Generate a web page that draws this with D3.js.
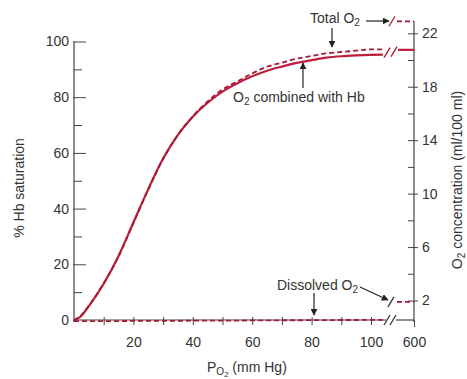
<!DOCTYPE html>
<html>
<head>
<meta charset="utf-8">
<script src="https://cdn.jsdelivr.net/npm/d3@7"></script>
<style>
  html, body { margin: 0; padding: 0; background: #fff; }
  svg { display: block; font-family: "Liberation Sans", Arial, Helvetica, sans-serif; }
</style>
</head>
<body>
<svg id="chart" width="467" height="379"></svg>
<script>
// P_O2 (mm Hg) at which the curves are sampled
const po2 = [0, 2, 5, 10, 15, 20, 25, 30, 35, 40, 45, 50, 55, 60, 65, 70, 75, 80, 85, 90, 95, 100, 104];
// % of hemoglobin saturated with O2 (left axis)
const hbSaturation = [0, 1, 5, 13, 23, 35, 47, 58, 66.5, 73, 78, 82, 85, 87.5, 89.5, 91, 92.3, 93.3, 94.2, 94.7, 95, 95.2, 95.3];
// Total O2 content of blood, ml O2 / 100 ml (right axis)
const totalO2 = [0.5, 0.8, 1.6, 3.3, 5.3, 7.8, 10.3, 12.6, 14.4, 15.8, 16.9, 17.8, 18.4, 19.0, 19.5, 19.8, 20.1, 20.3, 20.5, 20.6, 20.7, 20.8, 20.8];
// O2 physically dissolved in plasma, ml O2 / 100 ml (right axis)
const dissolvedO2 = [0.45, 0.45, 0.45, 0.46, 0.46, 0.47, 0.47, 0.48, 0.48, 0.49, 0.49, 0.5, 0.5, 0.51, 0.51, 0.52, 0.52, 0.53, 0.53, 0.54, 0.54, 0.55, 0.55];

// Values past the axis break, at P_O2 = 600 mm Hg
const highPo2 = 600;
const hbSaturationHigh = 97;
const totalO2High = 22.9;
const dissolvedO2High = 1.9;

// Tick values and labels
const xTicks = [10, 20, 30, 40, 50, 60, 70, 80, 90, 100];
const xTickLabels = [20, 40, 60, 80, 100];
const leftTicks = [0, 10, 20, 30, 40, 50, 60, 70, 80, 90, 100];
const leftTickLabels = [0, 20, 40, 60, 80, 100];
const rightTicks = [2, 4, 6, 8, 10, 12, 14, 16, 18, 20, 22];
const rightTickLabels = [2, 6, 10, 14, 18, 22];

const svg = d3.select("#chart");
const ink = "#333";
const axisInk = "#444";
const redSolid = "#be1d3c";
const redDash = "#a61a36";
const fontSize = 14;

// Scales
const x = d3.scaleLinear().domain([0, 100]).range([74, 371]);
const xHigh = d3.scaleOrdinal().domain([highPo2]).range([414]);
const yL = d3.scaleLinear().domain([0, 100]).range([320, 41.5]);
const yR = d3.scaleLinear().domain([2, 22]).range([300.5, 33.3]);

const leftX = x(0);
const rightX = xHigh(highPo2);
const baseY = yL(0);
const breakStart = 386, breakEnd = 396;   // gap on the x axis
const highStart = 397;                     // start of the 600 mm Hg segment

// Arrow head
svg.append("defs").append("marker")
  .attr("id", "arrow")
  .attr("viewBox", "0 0 10 10")
  .attr("refX", 9).attr("refY", 5)
  .attr("markerWidth", 7).attr("markerHeight", 7)
  .attr("markerUnits", "userSpaceOnUse")
  .attr("orient", "auto")
  .append("path").attr("d", "M0,0 L10,5 L0,10 Z").attr("fill", "#222");

// ---- Left axis (% Hb saturation)
const gL = svg.append("g")
  .attr("transform", `translate(${leftX},0)`)
  .call(d3.axisRight(yL).tickValues(leftTicks).tickSizeOuter(0)
    .tickFormat(d => leftTickLabels.includes(d) ? d : ""));
gL.select(".domain").remove();
gL.selectAll(".tick line")
  .attr("x1", d => leftTickLabels.includes(d) ? -1 : 0)
  .attr("x2", d => d === 0 ? 0 : (leftTickLabels.includes(d) ? 12 : 8))
  .attr("stroke", axisInk);
gL.selectAll(".tick text")
  .attr("x", -5).attr("text-anchor", "end")
  .attr("font-size", fontSize).attr("font-family", null).attr("fill", ink);
svg.append("line")
  .attr("x1", leftX).attr("x2", leftX)
  .attr("y1", yL(100)).attr("y2", baseY + 2)
  .attr("stroke", axisInk).attr("stroke-width", 1.2);

// ---- Bottom axis (P_O2)
const gX = svg.append("g")
  .attr("transform", `translate(0,${baseY})`)
  .call(d3.axisBottom(x).tickValues(xTicks).tickSizeOuter(0).tickSizeInner(5).tickPadding(12)
    .tickFormat(d => xTickLabels.includes(d) ? d : ""));
gX.select(".domain").remove();
gX.selectAll(".tick line").attr("y1", -3).attr("y2", 5).attr("stroke", axisInk);
gX.selectAll(".tick text").attr("font-size", fontSize).attr("font-family", null).attr("fill", ink);

const gXHigh = svg.append("g")
  .attr("transform", `translate(0,${baseY})`)
  .call(d3.axisBottom(xHigh).tickSizeOuter(0).tickSizeInner(7).tickPadding(10));
gXHigh.select(".domain").remove();
gXHigh.selectAll(".tick line").attr("stroke", axisInk);
gXHigh.selectAll(".tick text").attr("font-size", fontSize).attr("font-family", null).attr("fill", ink);

svg.append("line").attr("x1", leftX).attr("x2", breakStart).attr("y1", baseY).attr("y2", baseY)
  .attr("stroke", axisInk).attr("stroke-width", 1.2);
svg.append("line").attr("x1", breakEnd).attr("x2", rightX).attr("y1", baseY).attr("y2", baseY)
  .attr("stroke", axisInk).attr("stroke-width", 1.2);

// ---- Right axis (O2 concentration)
const gR = svg.append("g")
  .attr("transform", `translate(${rightX},0)`)
  .call(d3.axisLeft(yR).tickValues(rightTicks).tickSizeOuter(0)
    .tickFormat(d => rightTickLabels.includes(d) ? d : ""));
gR.select(".domain").remove();
gR.selectAll(".tick line")
  .attr("x1", d => rightTickLabels.includes(d) ? 4 : 0)
  .attr("x2", -6).attr("stroke", axisInk);
gR.selectAll(".tick text")
  .attr("x", 8).attr("text-anchor", "start")
  .attr("font-size", fontSize).attr("font-family", null).attr("fill", ink);
svg.append("line")
  .attr("x1", rightX).attr("x2", rightX)
  .attr("y1", yR(totalO2High)).attr("y2", baseY + 2)
  .attr("stroke", axisInk).attr("stroke-width", 1.2);

// ---- Curves
const hbLine = d3.line().x((d, i) => x(po2[i])).y(d => yL(d)).curve(d3.curveMonotoneX);
const mlLine = d3.line().x((d, i) => x(po2[i])).y(d => yR(d)).curve(d3.curveMonotoneX);

svg.append("path").datum(hbSaturation).attr("d", hbLine)
  .attr("fill", "none").attr("stroke", redSolid).attr("stroke-width", 2.2);
svg.append("path").datum(totalO2).attr("d", mlLine)
  .attr("fill", "none").attr("stroke", redDash).attr("stroke-width", 1.8)
  .attr("stroke-dasharray", "5,3");
svg.append("path").datum(dissolvedO2).attr("d", mlLine)
  .attr("fill", "none").attr("stroke", redDash).attr("stroke-width", 1.8)
  .attr("stroke-dasharray", "5,3");

// Segments past the break, at 600 mm Hg
svg.append("line").attr("x1", highStart + 1).attr("x2", xHigh(highPo2))
  .attr("y1", yL(hbSaturationHigh)).attr("y2", yL(hbSaturationHigh))
  .attr("stroke", redSolid).attr("stroke-width", 2.2);
svg.append("line").attr("x1", highStart).attr("x2", xHigh(highPo2))
  .attr("y1", yR(totalO2High)).attr("y2", yR(totalO2High))
  .attr("stroke", redDash).attr("stroke-width", 1.8).attr("stroke-dasharray", "5,3");
svg.append("line").attr("x1", highStart).attr("x2", xHigh(highPo2))
  .attr("y1", yR(dissolvedO2High)).attr("y2", yR(dissolvedO2High))
  .attr("stroke", redDash).attr("stroke-width", 1.8).attr("stroke-dasharray", "5,3");

// Break marks
function slash(cx, cy, color) {
  svg.append("line")
    .attr("x1", cx - 3).attr("y1", cy + 5).attr("x2", cx + 3).attr("y2", cy - 5)
    .attr("stroke", color).attr("stroke-width", 1.3);
}
slash(387, yL(hbSaturation[hbSaturation.length - 1]) - 2, redDash);
slash(394, yL(hbSaturation[hbSaturation.length - 1]) - 3, redDash);
slash(392, yR(totalO2High), redDash);
slash(391, yR(dissolvedO2High), "#333");
slash(387, baseY, "#333");
slash(393, baseY, "#333");

// ---- Annotations
function sub2Text(g, px, py, before, after, anchor) {
  const t = g.append("text").attr("x", px).attr("y", py)
    .attr("font-size", fontSize).attr("fill", ink).attr("text-anchor", anchor || "start");
  t.append("tspan").text(before);
  t.append("tspan").attr("font-size", fontSize * 0.72).attr("dy", 3).text("2");
  if (after) t.append("tspan").attr("dy", -3).text(after);
  return t;
}
function arrow(x1, y1, x2, y2) {
  svg.append("line").attr("x1", x1).attr("y1", y1).attr("x2", x2).attr("y2", y2)
    .attr("stroke", "#222").attr("stroke-width", 1.2).attr("marker-end", "url(#arrow)");
}

// Total O2
sub2Text(svg, 310, 23, "Total O", "");
arrow(366, 21, 389, 21);
arrow(332, 28, 332, 47);

// O2 combined with Hb
sub2Text(svg, 233, 102, "O", " combined with Hb");
arrow(303, 88, 303, 63);

// Dissolved O2
sub2Text(svg, 277, 290, "Dissolved O", "");
arrow(360, 287, 388, 300);
arrow(314, 293, 314, 315);

// ---- Axis titles
svg.append("text")
  .attr("transform", `translate(24,${188}) rotate(-90)`)
  .attr("text-anchor", "middle").attr("font-size", fontSize).attr("fill", ink)
  .text("% Hb saturation");

const rt = svg.append("text")
  .attr("transform", `translate(462,${180}) rotate(-90)`)
  .attr("text-anchor", "middle").attr("font-size", fontSize).attr("fill", ink);
rt.append("tspan").text("O");
rt.append("tspan").attr("font-size", fontSize * 0.72).attr("dy", 3).text("2");
rt.append("tspan").attr("dy", -3).text(" concentration (ml/100 ml)");

const xt = svg.append("text")
  .attr("x", 207).attr("y", 372)
  .attr("font-size", fontSize).attr("fill", ink);
xt.append("tspan").text("P");
xt.append("tspan").attr("font-size", fontSize * 0.72).attr("dy", 3).text("O");
xt.append("tspan").attr("font-size", fontSize * 0.55).attr("dy", 2).text("2");
xt.append("tspan").attr("dy", -5).text(" (mm Hg)");
</script>
</body>
</html>
